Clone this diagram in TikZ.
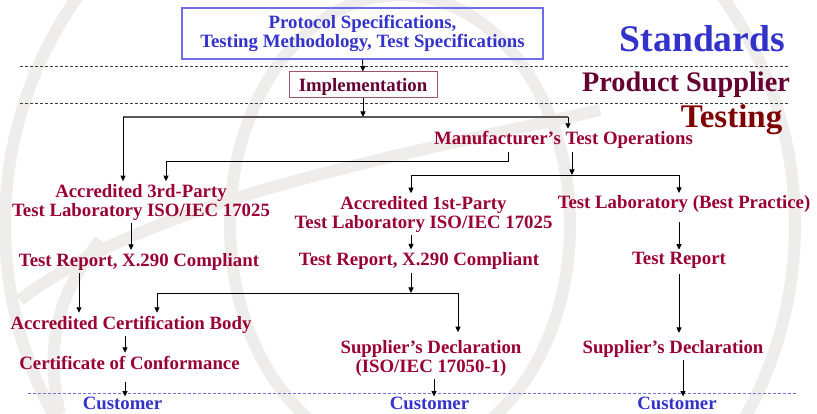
\documentclass[tikz,border=0pt]{standalone}
\usepackage{fontspec}
\setmainfont{Liberation Serif}
\usetikzlibrary{arrows.meta}

\definecolor{stdblue}{RGB}{51,51,204}
\definecolor{boxblue}{RGB}{110,110,235}
\definecolor{crimson}{RGB}{153,0,51}
\definecolor{plum}{RGB}{102,0,51}
\definecolor{darkred}{RGB}{128,0,0}
\definecolor{implbox}{RGB}{160,80,120}
\definecolor{globe}{RGB}{239,236,236}
\definecolor{tierrule}{RGB}{60,60,60}
\definecolor{custrule}{RGB}{110,110,220}

\tikzset{
  lbl/.style={inner sep=0pt, outer sep=3pt, align=center, text=crimson,
    font=\fontsize{18.8}{19}\selectfont\bfseries},
  cust/.style={lbl, text=stdblue},
  arr/.style={draw=black, line width=0.9pt, -{Triangle[length=5.5pt,width=5pt]}},
  link/.style={draw=black, line width=0.9pt},
  tierline/.style={draw=tierrule, line width=0.9pt, dash pattern=on 3pt off 2pt},
  custline/.style={draw=custrule, line width=1pt, dash pattern=on 3pt off 2pt},
  globeline/.style={draw=globe, line width=12pt},
}

\begin{document}
\begin{tikzpicture}[x=1pt,y=-1pt]
\useasboundingbox (0,0) rectangle (817,414);
\fill[white] (0,0) rectangle (817,414);

% faint globe in the background
\begin{scope}
\clip (0,0) rectangle (817,414);
\draw[globeline] (400,225) circle [radius=395];
\draw[globeline] (400,225) ellipse [x radius=170, y radius=230];
\draw[globeline] (20,300) .. controls (150,200) and (380,160) .. (600,110);
\draw[globeline] (60,414) .. controls (40,330) and (70,280) .. (100,240);
\end{scope}

% tier separators
\draw[tierline] (20,66) -- (790,66);
\draw[tierline] (20,103) -- (790,103);
\draw[custline] (28,393) -- (797,393);

% tier titles
\node[anchor=base, text=stdblue, font=\fontsize{37.6}{38}\selectfont\bfseries]
  (tStd) at (702.5,52) {Standards};
\node[anchor=base, text=plum, font=\fontsize{28.3}{29}\selectfont\bfseries]
  (tSup) at (686,92) {Product Supplier};
\node[anchor=base, text=darkred, font=\fontsize{33}{34}\selectfont\bfseries]
  (tTest) at (731.5,128) {Testing};

% boxes
\node[draw=boxblue, line width=1.1pt, inner sep=0pt, minimum width=361pt, minimum height=51pt,
  align=center, text=stdblue, font=\fontsize{18.8}{19}\selectfont\bfseries]
  (spec) at (362.5,33.5) {Protocol Specifications,\\Testing Methodology, Test Specifications};
\node[draw=implbox, line width=1pt, inner sep=0pt, minimum width=148pt, minimum height=26pt,
  text height=13pt, text depth=0pt, text=plum, font=\fontsize{18.8}{19}\selectfont\bfseries]
  (impl) at (363,85) {Implementation};

% labels
\node[lbl, anchor=base] (mto) at (563.5,145) {Manufacturer’s Test Operations};
\node[lbl, anchor=north] (acc3) at (141,181.2) {Accredited 3rd-Party\\Test Laboratory ISO/IEC 17025};
\node[lbl, anchor=north] (acc1) at (423.5,193.2) {Accredited 1st-Party\\Test Laboratory ISO/IEC 17025};
\node[lbl, anchor=base] (tlbp) at (684,209) {Test Laboratory (Best Practice)};
\node[lbl, anchor=base] (tr1) at (139,266) {Test Report, X.290 Compliant};
\node[lbl, anchor=base] (tr2) at (419,265.5) {Test Report, X.290 Compliant};
\node[lbl, anchor=base] (tr3) at (679,265) {Test Report};
\node[lbl, anchor=base] (acb) at (131,329) {Accredited Certification Body};
\node[lbl, anchor=base] (coc) at (129.5,369) {Certificate of Conformance};
\node[lbl, anchor=north] (sd1) at (431,337.2) {Supplier’s Declaration\\(ISO/IEC 17050-1)};
\node[lbl, anchor=base] (sd2) at (673,353) {Supplier’s Declaration};
\node[cust, anchor=base] (cu1) at (122.5,409) {Customer};
\node[cust, anchor=base] (cu2) at (429.5,409) {Customer};
\node[cust, anchor=base] (cu3) at (677,409) {Customer};

% junctions and guide positions
\coordinate (jTop) at (363,117);
\coordinate (jL) at (123,117);
\coordinate (jR) at (568,117);
\coordinate (xM1) at (508,0);
\coordinate (jA) at (166,161);
\coordinate (xM2) at (572,0);
\coordinate (jB1) at (411,175);
\coordinate (jB2) at (679,175);
\coordinate (x3) at (131,0);
\coordinate (x1) at (411,0);
\coordinate (x79) at (79,0);
\coordinate (jC) at (411,293);
\coordinate (jC1) at (157,293);
\coordinate (jC2) at (458,293);
\coordinate (xC) at (125,0);
\coordinate (xS1) at (434,0);
\coordinate (xS2) at (683,0);

% connectors
\draw[arr] (spec.south) -- (impl.north);
\draw[arr] (impl.south) -- (jTop);
\draw[draw=black!65, line width=1.3pt] (jL) -- (jR);
\draw[arr] (jL) -- (jL |- acc3.north);
\draw[arr] (jR) -- (jR |- mto.north);

\draw[arr] (mto.south -| xM1) |- (jA) -- (jA |- acc3.north);
\draw[arr] (mto.south -| xM2) -- (xM2 |- jB1);
\draw[link] (jB1) -- (jB2);
\draw[arr] (jB1) -- (jB1 |- acc1.north);
\draw[arr] (jB2) -- (jB2 |- tlbp.north);

\draw[arr] (acc3.south -| x3) -- (x3 |- tr1.north);
\draw[arr] (acc1.south -| x1) -- (x1 |- tr2.north);
\draw[arr, shorten <=6pt] (tlbp.south -| tr3.north) -- (tr3.north);

\draw[arr] (tr1.south -| x79) -- (x79 |- acb.north);
\draw[arr] (tr2.south -| jC) -- (jC);
\draw[link] (jC1) -- (jC2);
\draw[arr] (jC1) -- (jC1 |- acb.north);
\draw[arr, shorten >=5pt] (jC2) -- (jC2 |- sd1.north);
\draw[arr, shorten <=2pt, shorten >=4pt] (tr3.south) -- (tr3.south |- sd2.north);

\draw[arr] (acb.south -| xC) -- (xC |- coc.north);
\draw[arr, shorten <=10pt, shorten >=-3pt] (coc.south -| xC) -- (xC |- cu1.north);
\draw[arr, shorten >=-3pt] (sd1.south -| xS1) -- (xS1 |- cu2.north);
\draw[arr, shorten >=-3pt] (sd2.south -| xS2) -- (xS2 |- cu3.north);
\end{tikzpicture}
\end{document}
